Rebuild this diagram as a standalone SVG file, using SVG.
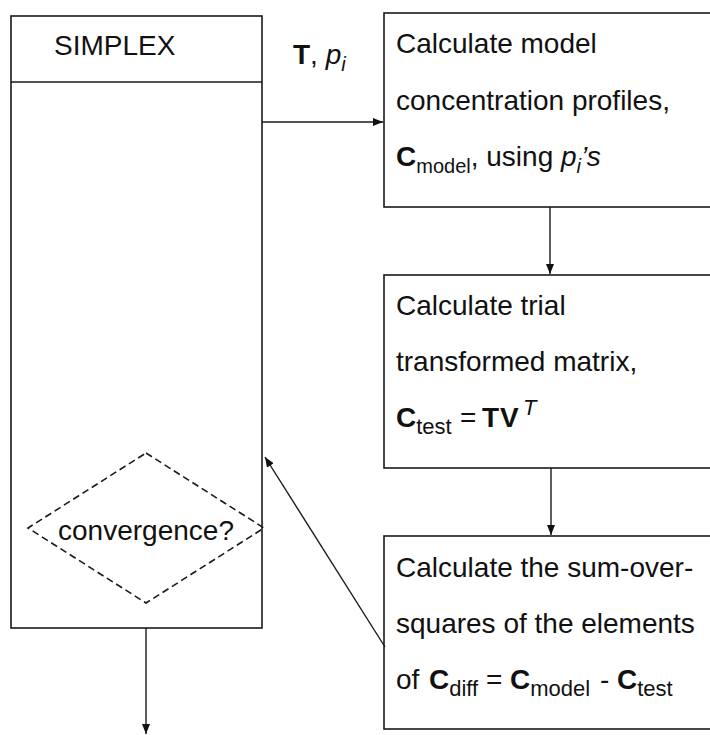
<svg xmlns="http://www.w3.org/2000/svg" width="710" height="735" viewBox="0 0 710 735">
  <style>
    text { font-family: "Liberation Sans", Arial, Helvetica, sans-serif; font-size: 28px; fill: #111; }
    .box { fill: none; stroke: #1a1a1a; stroke-width: 1.6; }
    .conn { fill: none; stroke: #1a1a1a; stroke-width: 1.4; }
    .dash { fill: none; stroke: #1a1a1a; stroke-width: 1.6; stroke-dasharray: 7 4; }
    .b { font-weight: bold; }
    .i { font-style: italic; }
    .sub { font-size: 20px; }
    .sub2 { font-size: 22px; }
  </style>
  <defs>
    <marker id="arr" viewBox="0 0 10 8" refX="10" refY="4" markerWidth="10" markerHeight="8" markerUnits="userSpaceOnUse" orient="auto">
      <path d="M0,0 L10,4 L0,8 z" fill="#111"/>
    </marker>
  </defs>

  <rect width="710" height="735" fill="#fff"/>

  <!-- SIMPLEX optimiser block -->
  <g id="simplex">
    <rect class="box" x="11" y="16" width="251" height="612"/>
    <line class="box" x1="11" y1="82" x2="262" y2="82"/>
    <text x="54" y="55">SIMPLEX</text>
  </g>

  <!-- convergence test inside the optimiser -->
  <g id="convergence">
    <polygon class="dash" points="146,453 264,528 146,603 28,528"/>
    <text x="146" y="540" text-anchor="middle">convergence?</text>
  </g>

  <!-- model concentration profiles -->
  <g id="model">
    <rect class="box" x="384" y="13" width="340" height="194"/>
    <text x="396" y="53">Calculate model</text>
    <text x="396" y="110">concentration profiles,</text>
    <text x="396" y="166"><tspan class="b">C</tspan><tspan class="sub" dy="7">model</tspan><tspan dy="-7">, using </tspan><tspan class="i">p</tspan><tspan class="sub i" dy="7">i</tspan><tspan class="i" dy="-7">’s</tspan></text>
  </g>

  <!-- trial transformed matrix -->
  <g id="trial">
    <rect class="box" x="384" y="275" width="340" height="193"/>
    <text x="396" y="315">Calculate trial</text>
    <text x="396" y="371">transformed matrix,</text>
    <text x="396" y="427"><tspan class="b">C</tspan><tspan class="sub2" dy="7">test</tspan><tspan x="460" dy="-7">=</tspan><tspan class="b" x="482" letter-spacing="1">TV</tspan><tspan class="sub2 i" x="523" dy="-12">T</tspan></text>
  </g>

  <!-- sum of squares of the residual matrix -->
  <g id="residual">
    <rect class="box" x="384" y="536" width="340" height="193"/>
    <text x="396" y="577">Calculate the sum-over-</text>
    <text x="396" y="633">squares of the elements</text>
    <text x="396" y="689">of<tspan class="b" x="429">C</tspan><tspan class="sub2" dy="7">diff</tspan><tspan x="486" dy="-7">=</tspan><tspan class="b" x="510">C</tspan><tspan class="sub2" dy="7">model</tspan><tspan x="600" dy="-7">-</tspan><tspan class="b" x="617">C</tspan><tspan class="sub2" dy="7">test</tspan></text>
  </g>

  <!-- connectors -->
  <g id="connectors">
    <path class="conn" d="M262,122 H383" marker-end="url(#arr)"/>
    <text x="293" y="64"><tspan class="b">T</tspan>, <tspan class="i">p</tspan><tspan class="sub i" dy="7">i</tspan></text>
    <path class="conn" d="M550,207 V274" marker-end="url(#arr)"/>
    <path class="conn" d="M551,468 V535" marker-end="url(#arr)"/>
    <path class="conn" d="M385,647 L265,457" marker-end="url(#arr)"/>
    <path class="conn" d="M146,628 V734" marker-end="url(#arr)"/>
  </g>
</svg>
